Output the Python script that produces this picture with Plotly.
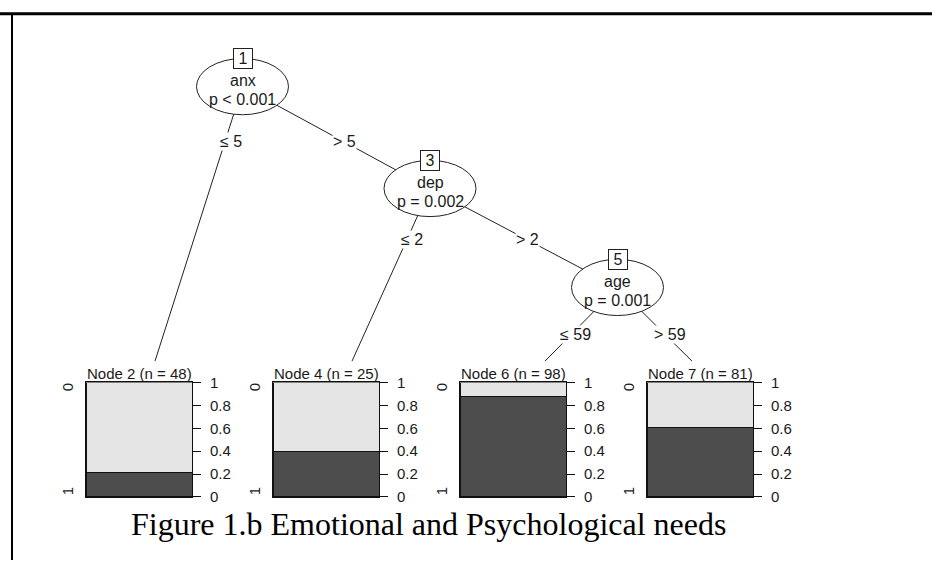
import plotly.graph_objects as go

# ---------------- data ----------------
terminal_ids = [2, 4, 6, 7]
terminal_n = [48, 25, 98, 81]
prop_class1 = [0.21, 0.40, 0.88, 0.605]      # share of level "1" (dark)
class_levels = ["0", "1"]
tick_vals = [0, 0.2, 0.4, 0.6, 0.8, 1]
tick_text = ["0", "0.2", "0.4", "0.6", "0.8", "1"]

inner_ids = [1, 3, 5]
inner_vars = ["anx", "dep", "age"]
inner_p = ["p < 0.001", "p = 0.002", "p = 0.001"]
split_left = ["≤ 5", "≤ 2", "≤ 59"]
split_right = ["> 5", "> 2", "> 59"]
caption = "Figure 1.b Emotional and Psychological needs"

# ---------------- layout (pixel geometry) ----------------
W, H = 932, 568
FONT = "Liberation Sans, Arial, sans-serif"
TXT = "#1a1a1a"
LIGHT, DARK = "#e5e5e5", "#4d4d4d"

inner_cx = [242.5, 430, 617.5]
inner_cy = [80, 185, 287]
rx, ry = 46, 29
term_cx = [149.5 + 187 * i for i in range(4)]
bar_w = 106
bar_left = [c - 63.5 for c in term_cx]
bar_top, bar_bot = 385, 503
edge_end_x = [155, 352, 545, 692]
edge_end_y = 363
lab_y = [137, 238, 336]
lab_left_x = [231, 412, 575]
lab_right_x = [344, 527, 670]

fig = go.Figure()

layout_axes = dict(
    xaxis=dict(range=[0, W], domain=[0, 1], visible=False, fixedrange=True),
    yaxis=dict(range=[H, 0], domain=[0, 1], visible=False, fixedrange=True),
)
fig.add_trace(go.Scatter(x=[0], y=[0], mode="markers", marker=dict(opacity=0),
                         showlegend=False, hoverinfo="skip", xaxis="x", yaxis="y"))

# terminal bar panels
for i, (nid, n, p1) in enumerate(zip(terminal_ids, terminal_n, prop_class1)):
    k = i + 2
    xa, ya = f"x{k}", f"y{k}"
    fig.add_trace(go.Bar(x=[0], y=[p1], width=1, marker=dict(color=DARK, line=dict(color="#111", width=1)),
                         showlegend=False, hoverinfo="skip", xaxis=xa, yaxis=ya))
    fig.add_trace(go.Bar(x=[0], y=[1 - p1], width=1, marker=dict(color=LIGHT, line=dict(color="#111", width=1)),
                         showlegend=False, hoverinfo="skip", xaxis=xa, yaxis=ya))
    layout_axes[f"xaxis{k}"] = dict(
        domain=[bar_left[i] / W, (bar_left[i] + bar_w) / W], anchor=ya, range=[-0.5, 0.5],
        showticklabels=False, ticks="", showgrid=False, zeroline=False,
        showline=True, mirror=True, linecolor="#111", linewidth=1, fixedrange=True)
    layout_axes[f"yaxis{k}"] = dict(
        domain=[1 - bar_bot / H, 1 - bar_top / H], anchor=xa, range=[0, 1], side="right",
        tickvals=tick_vals, ticktext=tick_text, ticks="outside", ticklen=8, tickwidth=1,
        tickcolor="#111", tickfont=dict(family=FONT, size=15, color=TXT), ticklabelstandoff=6,
        showgrid=False, zeroline=False, showline=True, mirror=True, linecolor="#111",
        linewidth=1, fixedrange=True)

fig.update_layout(**layout_axes)

shapes = []
ann = []

# borders
shapes.append(dict(type="line", xref="x", yref="y", x0=0, x1=W, y0=5, y1=5, line=dict(color="black", width=3)))
shapes.append(dict(type="line", xref="x", yref="y", x0=12, x1=12, y0=5, y1=H, line=dict(color="black", width=2)))

# edges
edges = [
    ((inner_cx[0], inner_cy[0]), (edge_end_x[0], edge_end_y)),
    ((inner_cx[0], inner_cy[0]), (inner_cx[1], inner_cy[1])),
    ((inner_cx[1], inner_cy[1]), (edge_end_x[1], edge_end_y)),
    ((inner_cx[1], inner_cy[1]), (inner_cx[2], inner_cy[2])),
    ((inner_cx[2], inner_cy[2]), (edge_end_x[2], edge_end_y)),
    ((inner_cx[2], inner_cy[2]), (edge_end_x[3], edge_end_y)),
]
for (a, b) in edges:
    shapes.append(dict(type="line", xref="x", yref="y", x0=a[0], y0=a[1], x1=b[0], y1=b[1],
                       line=dict(color="#222", width=1)))

# ellipses for inner nodes
for cx, cy in zip(inner_cx, inner_cy):
    shapes.append(dict(type="circle", xref="x", yref="y", x0=cx - rx, x1=cx + rx, y0=cy - ry, y1=cy + ry,
                       fillcolor="white", line=dict(color="#222", width=1)))

# inner node texts
for j in range(3):
    cx, cy = inner_cx[j], inner_cy[j]
    ann.append(dict(x=cx, y=cy - ry, text=str(inner_ids[j]), showarrow=False, xref="x", yref="y",
                    font=dict(family=FONT, size=16, color=TXT), bgcolor="white",
                    bordercolor="#222", borderwidth=1, borderpad=1, width=16, height=17))
    ann.append(dict(x=cx, y=cy - 6, text=inner_vars[j], showarrow=False, xref="x", yref="y",
                    font=dict(family=FONT, size=16, color=TXT)))
    ann.append(dict(x=cx, y=cy + 13, text=inner_p[j], showarrow=False, xref="x", yref="y",
                    font=dict(family=FONT, size=16, color=TXT)))
    ann.append(dict(x=lab_left_x[j], y=lab_y[j], text=split_left[j], showarrow=False, xref="x", yref="y",
                    font=dict(family=FONT, size=16, color=TXT), bgcolor="white", borderpad=0))
    ann.append(dict(x=lab_right_x[j], y=lab_y[j], text=split_right[j], showarrow=False, xref="x", yref="y",
                    font=dict(family=FONT, size=16, color=TXT), bgcolor="white", borderpad=0))

# terminal titles and level labels
for i, (nid, n) in enumerate(zip(terminal_ids, terminal_n)):
    bc = bar_left[i] + bar_w / 2
    ann.append(dict(x=bc, y=bar_top + 1, yanchor="bottom", text=f"Node {nid} (n = {n})", showarrow=False,
                    xref="x", yref="y", font=dict(family=FONT, size=15, color=TXT), borderpad=0))
    ann.append(dict(x=bar_left[i] - 19, y=bar_top + 5, text=class_levels[0], textangle=-90, showarrow=False,
                    xref="x", yref="y", font=dict(family=FONT, size=15, color=TXT)))
    ann.append(dict(x=bar_left[i] - 19, y=bar_bot - 6, text=class_levels[1], textangle=-90, showarrow=False,
                    xref="x", yref="y", font=dict(family=FONT, size=15, color=TXT)))

# caption
ann.append(dict(x=428, y=531, text=caption, showarrow=False, xref="x", yref="y",
                font=dict(family="Liberation Serif, Times New Roman, serif", size=32, color="black")))

fig.update_layout(
    width=W, height=H, margin=dict(l=0, r=0, t=0, b=0),
    paper_bgcolor="white", plot_bgcolor="rgba(0,0,0,0)",
    barmode="stack", bargap=0, showlegend=False,
    shapes=shapes, annotations=ann,
)

fig.write_html("out.html", config={"displayModeBar": False, "staticPlot": True},
               post_script="document.body.style.margin='0';document.body.style.overflow='hidden';")
